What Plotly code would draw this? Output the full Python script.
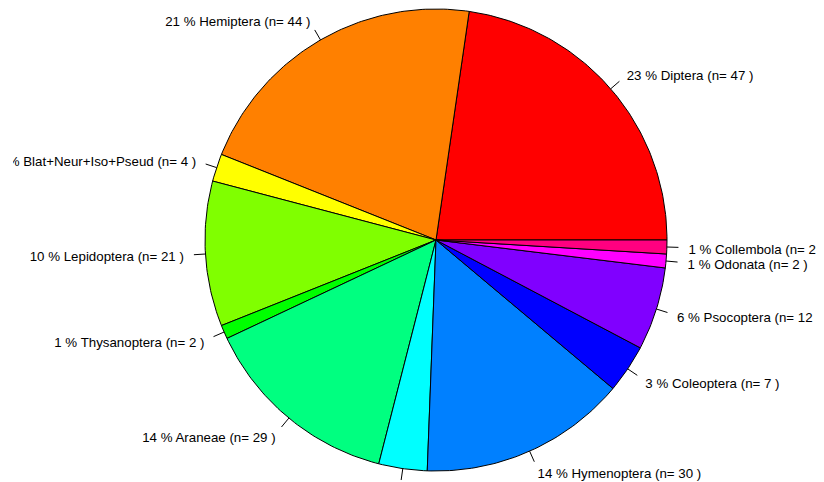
import numpy as np
import plotly.graph_objects as go

names = ["Diptera", "Hemiptera", "Blat+Neur+Iso+Pseud", "Lepidoptera", "Thysanoptera",
         "Araneae", "Orthoptera", "Hymenoptera", "Coleoptera", "Psocoptera", "Odonata", "Collembola"]
counts = [47, 44, 4, 21, 2, 29, 7, 30, 7, 12, 2, 2]
colors = ["#FF0000", "#FF8000", "#FFFF00", "#80FF00", "#00FF00", "#00FF80",
          "#00FFFF", "#0080FF", "#0000FF", "#8000FF", "#FF00FF", "#FF0080"]

# page body has an 8px margin, so the figure is 816x474 and sits at (8, 8)
W, H = 816, 474
ML = 5
cx_px, cy_px, R_px = 436 - 8 - ML, 240 - 8, 231
PW = W - ML
TEXT_DY = 2.5 / R_px   # small vertical nudge to centre text like R does

total = sum(counts)
pct = [int(np.floor(c / total * 100 + 0.5)) for c in counts]
labels = [f"{p} % {n} (n= {c} )" for p, n, c in zip(pct, names, counts)]

fig = go.Figure()
cum = np.concatenate([[0], np.cumsum(counts)]) / total * 2 * np.pi
for i in range(len(counts)):
    t0, t1 = cum[i], cum[i + 1]
    n = max(2, int(np.ceil((t1 - t0) / (2 * np.pi) * 400)))
    t = np.linspace(t0, t1, n)
    xs = np.concatenate([[0], np.cos(t), [0]])
    ys = np.concatenate([[0], np.sin(t), [0]])
    fig.add_trace(go.Scatter(x=xs, y=ys, mode="lines", fill="toself",
                             fillcolor=colors[i], line=dict(color="black", width=1),
                             hoverinfo="skip", showlegend=False))

tx, ty = [], []
lx, ly, lpos = [], [], []
for i in range(len(counts)):
    m = (cum[i] + cum[i + 1]) / 2
    px, py = np.cos(m), np.sin(m)
    tx += [px, 1.05 * px, None]
    ty += [py, 1.05 * py, None]
    lx.append(1.1 * px - np.sign(px) * 1.5 / R_px)
    ly.append(1.1 * py - TEXT_DY)
    lpos.append("middle right" if px >= 0 else "middle left")
fig.add_trace(go.Scatter(x=tx, y=ty, mode="lines", line=dict(color="black", width=1),
                         hoverinfo="skip", showlegend=False, cliponaxis=False))
fig.add_trace(go.Scatter(x=lx, y=ly, mode="text", text=labels, textposition=lpos,
                         textfont=dict(family="Liberation Sans, Arial, sans-serif", size=13.3,
                                       color="black"),
                         hoverinfo="skip", showlegend=False, cliponaxis=True))

fig.update_layout(
    width=W, height=H, margin=dict(l=ML, r=0, t=0, b=0),
    paper_bgcolor="white", plot_bgcolor="white",
    xaxis=dict(range=[-cx_px / R_px, (PW - cx_px) / R_px], visible=False, fixedrange=True),
    yaxis=dict(range=[-(H - cy_px) / R_px, cy_px / R_px], visible=False, fixedrange=True),
)
fig.write_html("out.html")
